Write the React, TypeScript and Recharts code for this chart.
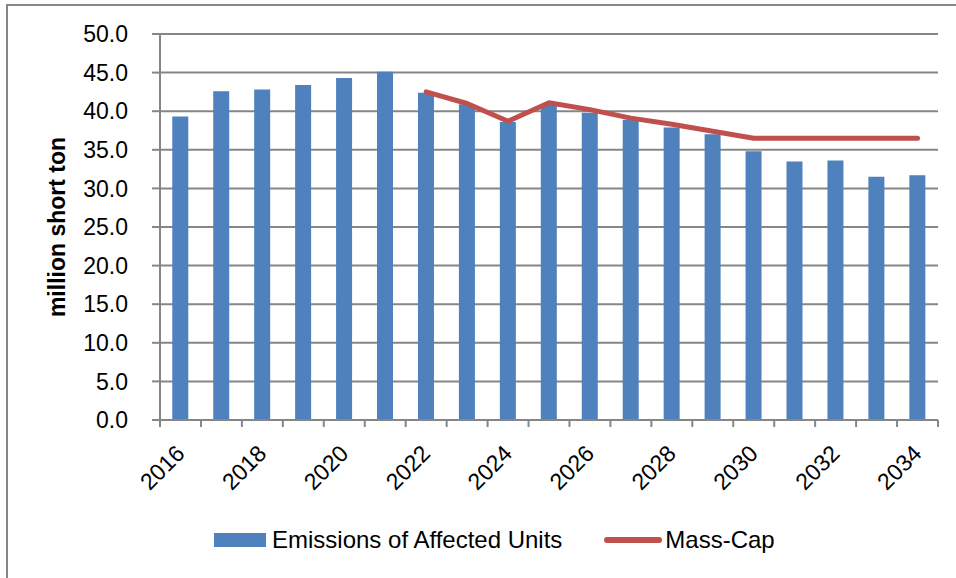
import React from 'react';
import { ComposedChart, Bar, Line, XAxis, YAxis, CartesianGrid, Legend, Label } from 'recharts';

const years = ['2016', '2017', '2018', '2019', '2020', '2021', '2022', '2023', '2024', '2025', '2026', '2027', '2028', '2029', '2030', '2031', '2032', '2033', '2034'];
const emissions = [39.3, 42.6, 42.8, 43.4, 44.3, 45.1, 42.4, 40.9, 38.6, 40.8, 39.8, 38.9, 37.9, 37.0, 34.8, 33.5, 33.6, 31.5, 31.7];
const massCap: (number | null)[] = [null, null, null, null, null, null, 42.5, 41.0, 38.7, 41.1, 40.2, 39.1, 38.3, 37.4, 36.5, 36.5, 36.5, 36.5, 36.5];
const yTicks = [0, 5, 10, 15, 20, 25, 30, 35, 40, 45, 50];

const data = years.map((y, i) => ({ year: y, emissions: emissions[i], massCap: massCap[i] }));

const W = 956;
const H = 578;
const X_H = 60;
const MARGIN = { top: 34, right: 18, bottom: 158 - X_H, left: 0 };
const Y_W = 160;
const BAND = (W - MARGIN.left - MARGIN.right - Y_W) / years.length;
const GRAY = '#868686';
const BLUE = '#4F81BD';
const RED = '#C0504D';
const FONT = '"Liberation Sans", Arial, sans-serif';

const XTick = (props: any) => {
  const { x, y, payload, index } = props;
  const i = typeof index === 'number' ? index : payload.index;
  const half = BAND / 2;
  const showLabel = i % 2 === 0;
  const ax = x + 5.5;
  const ay = y + 35;
  return (
    <g>
      <line x1={x - half} y1={y} x2={x - half} y2={y + 7} stroke={GRAY} strokeWidth={2} />
      {i === years.length - 1 && (
        <line x1={x + half} y1={y} x2={x + half} y2={y + 7} stroke={GRAY} strokeWidth={2} />
      )}
      {showLabel && (
        <text
          x={ax}
          y={ay}
          transform={`rotate(-45, ${ax}, ${ay})`}
          textAnchor="end"
          fontSize={23}
          fontFamily={FONT}
          fill="#000"
        >
          {payload.value}
        </text>
      )}
    </g>
  );
};

const YLabel = (props: any) => {
  const vb = props.viewBox || { x: 0, y: 0, width: 0, height: 0 };
  const lx = vb.x + 65;
  const ly = vb.y + vb.height / 2;
  return (
    <text
      x={lx}
      y={ly}
      transform={`rotate(-90, ${lx}, ${ly})`}
      textAnchor="middle"
      fontSize={23}
      fontWeight="bold"
      fontFamily={FONT}
      fill="#000"
    >
      million short ton
    </text>
  );
};

const LegendContent = (props: any) => {
  const items = props.payload || [];
  return (
    <div style={{ display: 'flex', alignItems: 'center', fontFamily: FONT, fontSize: 24, color: '#000', whiteSpace: 'nowrap' }}>
      {items.map((it: any, k: number) => (
        <div key={k} style={{ display: 'flex', alignItems: 'center', marginRight: k === 0 ? 42 : 0 }}>
          {it.type === 'line' ? (
            <svg width={58} height={10} style={{ marginRight: 3 }}>
              <line x1={3} y1={5} x2={55} y2={5} stroke={it.color} strokeWidth={6} strokeLinecap="round" />
            </svg>
          ) : (
            <div style={{ width: 52, height: 14, background: it.color, marginRight: 6 }} />
          )}
          <span style={{ lineHeight: '28px' }}>{it.value}</span>
        </div>
      ))}
    </div>
  );
};

export default function App() {
  return (
    <div style={{ position: 'absolute', left: 0, top: 0, width: W, height: H, overflow: 'hidden', background: '#fff' }}>
      <div style={{ position: 'absolute', left: 6, top: 4, width: 1000, height: 1000, border: `2px solid ${GRAY}` }} />
      <div style={{ position: 'absolute', left: 0, top: 0 }}>
        <ComposedChart width={W} height={H} data={data} margin={MARGIN} barCategoryGap="30%">
          <CartesianGrid vertical={false} stroke={GRAY} strokeWidth={2} />
          <XAxis
            dataKey="year"
            interval={0}
            tickLine={false}
            tickSize={0}
            tickMargin={0}
            axisLine={{ stroke: GRAY, strokeWidth: 2 }}
            tick={<XTick />}
            height={X_H}
          />
          <YAxis
            width={Y_W}
            domain={[0, 50]}
            ticks={yTicks}
            interval={0}
            tickFormatter={(v: number) => v.toFixed(1)}
            tickSize={8}
            tickMargin={24}
            tickLine={{ stroke: GRAY, strokeWidth: 2 }}
            axisLine={{ stroke: GRAY, strokeWidth: 2 }}
            tick={{ fontSize: 23, fontFamily: FONT, fill: '#000' }}
          >
            <Label content={<YLabel />} />
          </YAxis>
          <Legend
            layout="horizontal"
            verticalAlign="middle"
            align="center"
            wrapperStyle={{ top: 526, left: 214, width: 'auto' }}
            content={<LegendContent />}
            payload={[
              { value: 'Emissions of Affected Units', type: 'rect', color: BLUE, id: 'e' },
              { value: 'Mass-Cap', type: 'line', color: RED, id: 'm' },
            ] as any}
          />
          <Bar dataKey="emissions" name="Emissions of Affected Units" fill={BLUE} isAnimationActive={false} />
          <Line
            dataKey="massCap"
            name="Mass-Cap"
            type="linear"
            stroke={RED}
            strokeWidth={5}
            dot={false}
            activeDot={false}
            strokeLinecap="round"
            strokeLinejoin="round"
            connectNulls={false}
            isAnimationActive={false}
          />
        </ComposedChart>
      </div>
    </div>
  );
}
